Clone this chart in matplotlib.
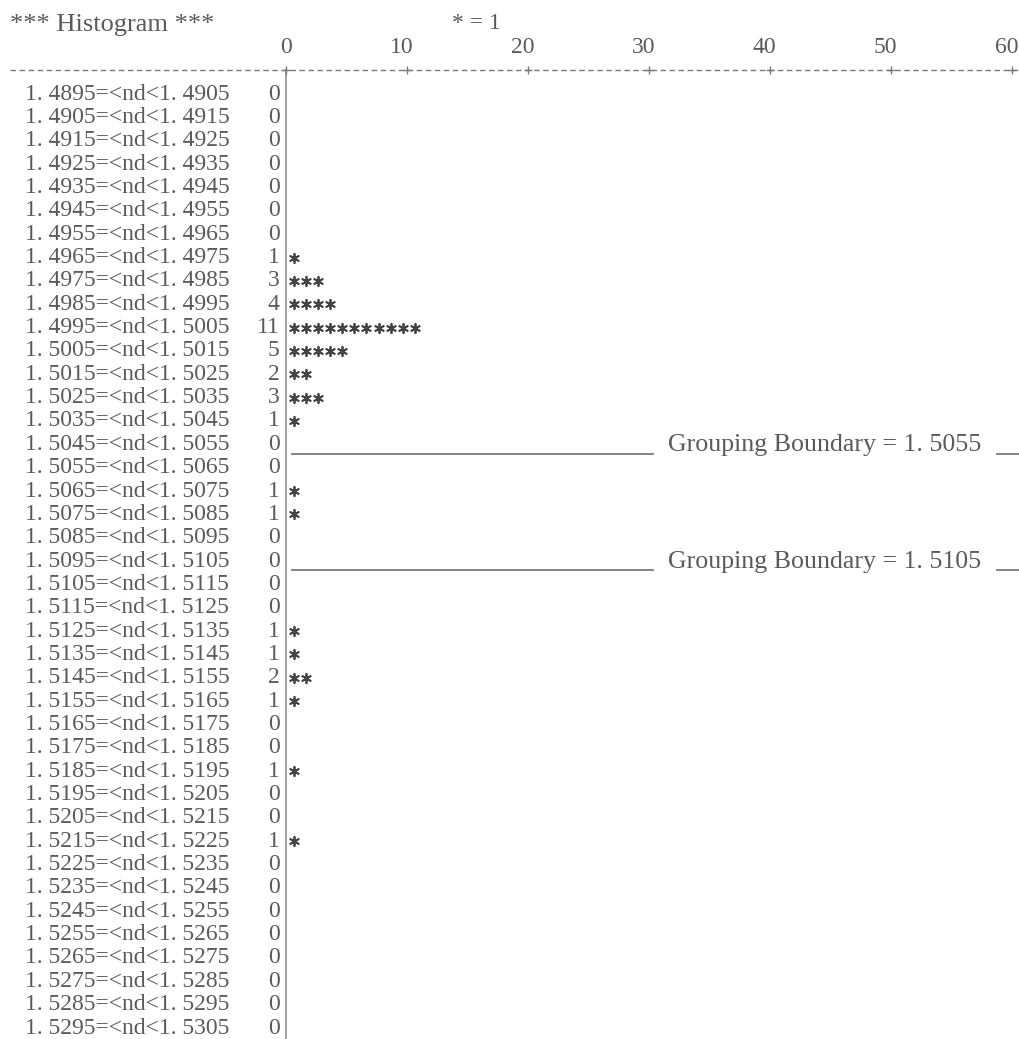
"""Text-style histogram of nd values with grouping boundaries."""

import matplotlib.pyplot as plt
import numpy as np

bin_lo = [1.4895, 1.4905, 1.4915, 1.4925, 1.4935, 1.4945, 1.4955, 1.4965,
          1.4975, 1.4985, 1.4995, 1.5005, 1.5015, 1.5025, 1.5035, 1.5045,
          1.5055, 1.5065, 1.5075, 1.5085, 1.5095, 1.5105, 1.5115, 1.5125,
          1.5135, 1.5145, 1.5155, 1.5165, 1.5175, 1.5185, 1.5195, 1.5205,
          1.5215, 1.5225, 1.5235, 1.5245, 1.5255, 1.5265, 1.5275, 1.5285,
          1.5295]
bin_width = 0.001
counts = [0, 0, 0, 0, 0, 0, 0, 1, 3, 4, 11, 5, 2, 3, 1, 0, 0, 1, 1, 0, 0,
          0, 0, 1, 1, 2, 1, 0, 0, 1, 0, 0, 1, 0, 0, 0, 0, 0, 0, 0, 0]
boundaries = [1.5055, 1.5105]
ruler_ticks = [0, 10, 20, 30, 40, 50, 60]

FONT = "Liberation Serif"
TEXT = "#5a5a5a"
LINE = "#7a7a7a"

fig = plt.figure(figsize=(10.2, 10.39), dpi=100)
ax = fig.add_axes([0, 0, 1, 1])
ax.set_xlim(-23.64, 60.66)
ax.set_ylim(40.47, -4.03)
ax.axis("off")

# header
ax.text(-22.8, -2.95, "*** Histogram ***", family=FONT, fontsize=19,
        color=TEXT, ha="left", va="center")
ax.text(13.7, -3.04, "* = 1", family=FONT, fontsize=17, color=TEXT,
        ha="left", va="center")

# ruler
for t in ruler_ticks:
    ax.text(t + 0.5, -2.01, str(t), family=FONT, fontsize=17, color=TEXT,
            ha="right", va="center")
ax.plot([-22.8, 60.66], [-1.03, -1.03], color=LINE, lw=1.0,
        dashes=(4, 2.5))
ax.scatter(ruler_ticks, [-1.03] * len(ruler_ticks), marker="+", s=40,
           color=LINE, lw=1.0, zorder=3)
ax.plot([0, 0], [-1.03, 40.47], color="#9a9a9a", lw=1.3)

# rows
for i, (lo, n) in enumerate(zip(bin_lo, counts)):
    hi = lo + bin_width
    lab = f"{lo:.4f}=<nd<{hi:.4f}".replace(".", ". ")
    ax.text(-21.57, i, lab, family=FONT, fontsize=17, color=TEXT,
            ha="left", va="center")
    ax.text(-0.55, i, str(n), family=FONT, fontsize=17, color=TEXT,
            ha="right", va="center")
    if n:
        xs = np.arange(n) + 0.65
        ax.scatter(xs, [i] * n, marker=(6, 2, 0), s=46, color="#444444",
                   lw=1.3, zorder=3)

# grouping boundaries
for b in boundaries:
    r = int(round((b - bin_lo[0]) / bin_width)) - 1
    ax.plot([0.5, 30.3], [r + 0.4, r + 0.4], color=LINE, lw=1.3)
    ax.text(31.57, r + 0.05, f"Grouping Boundary = {b:.4f}".replace(".", ". "),
            family=FONT, fontsize=18.6, color=TEXT, ha="left", va="center")
    ax.plot([58.8, 60.66], [r + 0.4, r + 0.4], color=LINE, lw=1.3)

fig.savefig("out.png", dpi=100, facecolor="white")
plt.close(fig)
